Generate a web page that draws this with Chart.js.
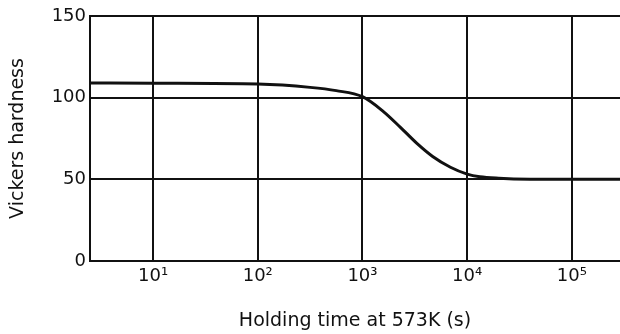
<!DOCTYPE html>
<html>
<head>
<meta charset="utf-8">
<style>
  html, body { margin: 0; padding: 0; background: #fff; }
  #wrap { width: 620px; height: 334px; }
</style>
<script src="https://cdn.jsdelivr.net/npm/chart.js@4/dist/chart.umd.min.js"></script>
</head>
<body>
<div id="wrap"><canvas id="c" width="620" height="334"></canvas></div>
<script>
// Holding time (s) and Vickers hardness along the softening curve
const holdingTime = [2.5, 10, 100, 316, 562, 1000, 1585, 2290, 3310, 4680, 6920, 10000, 13200, 20000, 40000, 100000, 288000];
const hardness    = [109, 108.8, 108.3, 106.3, 104.3, 100.6, 91.5, 82, 72, 64, 57.4, 53.2, 51.6, 50.7, 50.1, 50, 50];

// Decade ticks on the time axis and their labels
const xTickValues = [10, 100, 1000, 10000, 100000];
const xTickLabels = ['10¹', '10²', '10³', '10⁴', '10⁵'];

// Hardness axis
const yMin = 0, yMax = 150, yStep = 50;

const ink = '#111';
const tickFont = { family: '"DejaVu Sans", sans-serif', size: 18 };
const titleFont = { family: '"DejaVu Sans", sans-serif', size: 19 };

new Chart(document.getElementById('c'), {
  type: 'line',
  data: {
    datasets: [{
      data: holdingTime.map((t, i) => ({ x: t, y: hardness[i] })),
      borderColor: ink,
      borderWidth: 3,
      pointRadius: 0,
      fill: false,
      cubicInterpolationMode: 'monotone'
    }]
  },
  options: {
    responsive: false,
    animation: false,
    devicePixelRatio: 1,
    layout: { padding: { top: 16, right: 0, left: 0, bottom: 0 } },
    plugins: { legend: { display: false }, tooltip: { enabled: false } },
    scales: {
      x: {
        type: 'logarithmic',
        min: 2.5,
        max: 288000,
        afterBuildTicks: s => { s.ticks = xTickValues.map(v => ({ value: v })); },
        afterFit: s => { s.height = 73; s.paddingLeft = 0; s.paddingRight = 0; },
        ticks: {
          autoSkip: false,
          maxRotation: 0,
          padding: 5,
          color: ink,
          font: tickFont,
          callback: (v, i) => xTickLabels[i]
        },
        grid: { color: ink, lineWidth: 2, drawTicks: false },
        border: { color: ink, width: 2 },
        title: {
          display: true,
          text: 'Holding time at 573K (s)',
          color: ink,
          font: titleFont,
          padding: { top: 0, bottom: 2 }
        }
      },
      y: {
        min: yMin,
        max: yMax,
        afterFit: s => { s.width = 90; s.paddingTop = 0; s.paddingBottom = 0; },
        ticks: {
          stepSize: yStep,
          padding: 4,
          color: ink,
          font: tickFont
        },
        grid: { color: ink, lineWidth: 2, drawTicks: false },
        border: { color: ink, width: 2 },
        title: {
          display: true,
          text: 'Vickers hardness',
          color: ink,
          font: titleFont,
          padding: { top: 7, bottom: 0 }
        }
      }
    }
  }
});
</script>
</body>
</html>
